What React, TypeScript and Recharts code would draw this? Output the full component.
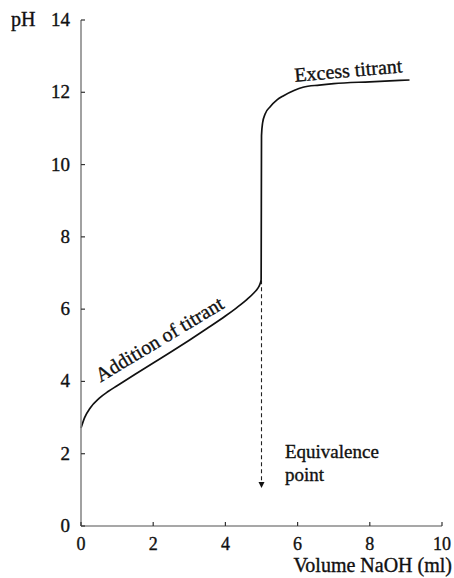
import React from 'react';
import { LineChart, Line, XAxis, YAxis, ReferenceLine, ReferenceDot } from 'recharts';

const volume = [0, 0.1, 0.25, 0.5, 0.75, 1.0, 1.5, 2.0, 2.5, 3.0, 3.5, 4.0, 4.3, 4.6, 4.8, 4.9, 4.96, 4.99,
  5.0, 5.03, 5.1, 5.24, 5.43, 5.6, 5.9, 6.15, 6.6, 7.0, 8.0, 9.1];
const pH = [2.71, 3.0, 3.26, 3.53, 3.72, 3.88, 4.2, 4.51, 4.82, 5.14, 5.47, 5.81, 6.03, 6.27, 6.46, 6.58, 6.7, 6.82,
  10.8, 11.15, 11.4, 11.6, 11.79, 11.9, 12.05, 12.14, 12.2, 12.24, 12.29, 12.34];

const xTicks = [0, 2, 4, 6, 8, 10];
const yTicks = [0, 2, 4, 6, 8, 10, 12, 14];

const equivalenceVolume = 5;
const arrowTop = 6.8;
const arrowBottom = 1.05;

const labelAddition = { text: 'Addition of titrant', x: 2.27, y: 5.01, angle: -31 };
const labelExcess = { text: 'Excess titrant', x: 7.42, y: 12.42, angle: -5 };
const labelEquivalence = { lines: ['Equivalence', 'point'], x: 5.65, y: 1.88 };

const data = volume.map((v, i) => ({ volume: v, pH: pH[i] }));

const FONT = 'Liberation Serif, Times New Roman, Times, serif';
const AXIS_COLOR = '#8a8a8a';
const TXT = { fill: '#111', stroke: '#111', strokeWidth: 0.35 };

const YTick = (props: any) => {
  const { x, y, payload } = props;
  return (
    <g>
      <line x1={x} y1={y} x2={x + 4} y2={y} stroke="#333" strokeWidth={1.2} />
      <text x={x - 11} y={y} dy={6} textAnchor="end" fontFamily={FONT} fontSize={19} {...TXT}>
        {payload.value}
      </text>
      {payload.value === 14 ? (
        <text x={11} y={y} dy={6} textAnchor="start" fontFamily={FONT} fontSize={20} {...TXT}>
          pH
        </text>
      ) : null}
    </g>
  );
};

const XTick = (props: any) => {
  const { x, y, payload } = props;
  return (
    <g>
      <line x1={x} y1={y} x2={x} y2={y - 4} stroke="#333" strokeWidth={1.2} />
      <text x={x} y={y + 24} textAnchor="middle" fontFamily={FONT} fontSize={18} {...TXT}>
        {payload.value}
      </text>
    </g>
  );
};

const RotatedText = (text: string, angle: number, size: number) => (p: any) => (
  <text
    x={p.cx}
    y={p.cy}
    textAnchor="middle"
    fontFamily={FONT}
    fontSize={size}
    {...TXT}
    transform={`rotate(${angle}, ${p.cx}, ${p.cy})`}
  >
    {text}
  </text>
);

const MultiText = (lines: string[], size: number) => (p: any) => (
  <text x={p.cx} y={p.cy} textAnchor="start" fontFamily={FONT} fontSize={size} {...TXT}>
    {lines.map((l, i) => (
      <tspan key={i} x={p.cx} dy={i === 0 ? 0 : 23}>
        {l}
      </tspan>
    ))}
  </text>
);

const ArrowHead = (p: any) => (
  <path d={`M${p.cx - 3},${p.cy - 6} L${p.cx + 3},${p.cy - 6} L${p.cx},${p.cy} Z`} fill="#111" />
);

const XLabel = () => (
  <text x={452} y={572} textAnchor="end" fontFamily={FONT} fontSize={20} {...TXT}>
    Volume NaOH (ml)
  </text>
);

export default function App() {
  return (
    <div style={{ position: 'absolute', left: 0, top: 0, background: '#fff' }}>
      <LineChart
        width={454}
        height={578}
        data={data}
        margin={{ top: 20, right: 12, left: 0, bottom: 0 }}
      >
        <XAxis
          dataKey="volume"
          type="number"
          domain={[0, 10]}
          ticks={xTicks}
          interval={0}
          height={52}
          tickSize={0}
          tickMargin={0}
          tickLine={false}
          axisLine={{ stroke: AXIS_COLOR, strokeWidth: 1.6 }}
          tick={<XTick />}
          label={<XLabel />}
        />
        <YAxis
          dataKey="pH"
          type="number"
          domain={[0, 14]}
          ticks={yTicks}
          interval={0}
          width={81}
          tickSize={0}
          tickMargin={0}
          tickLine={false}
          axisLine={{ stroke: AXIS_COLOR, strokeWidth: 1.6 }}
          tick={<YTick />}
        />
        <ReferenceLine
          segment={[
            { x: equivalenceVolume, y: arrowTop },
            { x: equivalenceVolume, y: arrowBottom + 0.15 },
          ]}
          stroke="#222"
          strokeWidth={1.1}
          strokeDasharray="4 3"
        />
        <ReferenceDot x={equivalenceVolume} y={arrowBottom} shape={ArrowHead} />
        <Line
          type="monotone"
          dataKey="pH"
          stroke="#111"
          strokeWidth={1.7}
          dot={false}
          isAnimationActive={false}
        />
        <ReferenceDot
          x={labelAddition.x}
          y={labelAddition.y}
          shape={RotatedText(labelAddition.text, labelAddition.angle, 20)}
        />
        <ReferenceDot
          x={labelExcess.x}
          y={labelExcess.y}
          shape={RotatedText(labelExcess.text, labelExcess.angle, 20)}
        />
        <ReferenceDot
          x={labelEquivalence.x}
          y={labelEquivalence.y}
          shape={MultiText(labelEquivalence.lines, 19)}
        />
      </LineChart>
    </div>
  );
}
